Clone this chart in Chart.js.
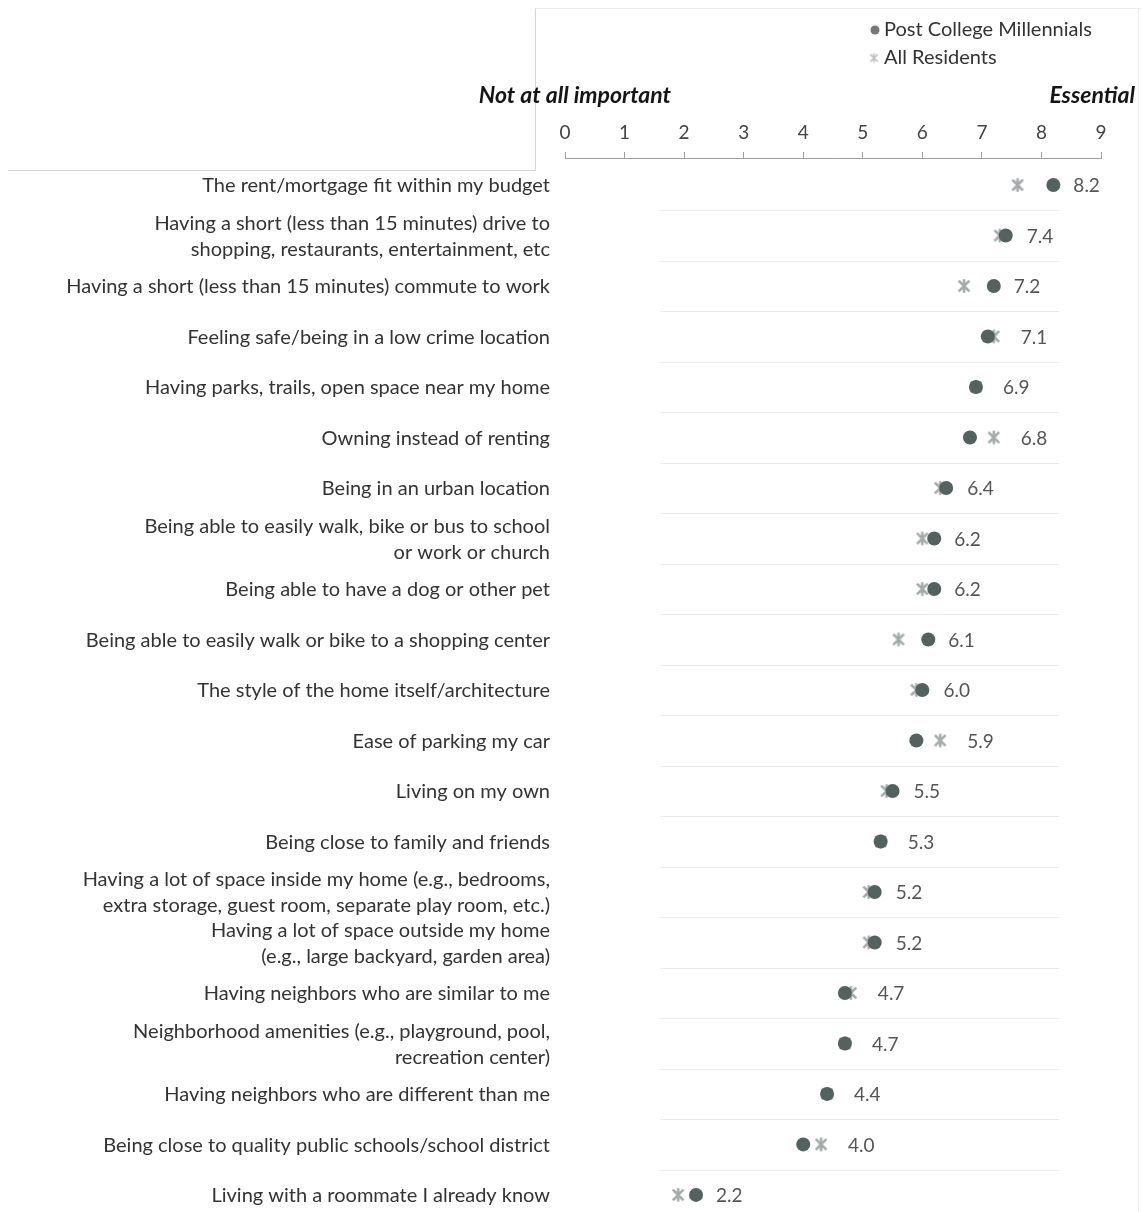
<!DOCTYPE html>
<html>
<head>
<meta charset="utf-8">
<script src="https://cdn.jsdelivr.net/npm/chart.js@4.4.1/dist/chart.umd.min.js"></script>
<style>
  html, body { margin: 0; padding: 0; background: #ffffff; overflow: hidden; }
  #wrap { position: relative; width: 1142px; height: 1212px; }
</style>
</head>
<body>
<div id="wrap"><canvas id="c"></canvas></div>
<script>
// ---- DATA ----
const categories = [
  "The rent/mortgage fit within my budget",
  ["Having a short (less than 15 minutes) drive to", "shopping, restaurants, entertainment, etc"],
  "Having a short (less than 15 minutes) commute to work",
  "Feeling safe/being in a low crime location",
  "Having parks, trails, open space near my home",
  "Owning instead of renting",
  "Being in an urban location",
  ["Being able to easily walk, bike or bus to school", "or work or church"],
  "Being able to have a dog or other pet",
  "Being able to easily walk or bike to a shopping center",
  "The style of the home itself/architecture",
  "Ease of parking my car",
  "Living on my own",
  "Being close to family and friends",
  ["Having a lot of space inside my home (e.g., bedrooms,", "extra storage, guest room, separate play room, etc.)"],
  ["Having a lot of space outside my home", "(e.g., large backyard, garden area)"],
  "Having neighbors who are similar to me",
  ["Neighborhood amenities (e.g., playground, pool,", "recreation center)"],
  "Having neighbors who are different than me",
  "Being close to quality public schools/school district",
  "Living with a roommate I already know"
];
const postCollegeMillennials = [8.2, 7.4, 7.2, 7.1, 6.9, 6.8, 6.4, 6.2, 6.2, 6.1, 6.0, 5.9, 5.5, 5.3, 5.2, 5.2, 4.7, 4.7, 4.4, 4.0, 2.2];
const allResidents          = [7.6, 7.3, 6.7, 7.2, 6.9, 7.2, 6.3, 6.0, 6.0, 5.6, 5.9, 6.3, 5.4, 5.3, 5.1, 5.1, 4.8, 4.7, 4.4, 4.3, 1.9];
const xTicks = [0, 1, 2, 3, 4, 5, 6, 7, 8, 9];
const seriesNames = ["Post College Millennials", "All Residents"];
const scaleEnds = ["Not at all important", "Essential"];

// ---- STYLE ----
const FONT = "Lato, 'Open Sans', 'DejaVu Sans', sans-serif";
const MILL_COLOR = "#53625f";
const ALL_COLOR = "#a4abaa";

// six-spoke asterisk marker (X plus vertical bar), used as a point style
function makeAsterisk(size, color, lw) {
  const c = document.createElement('canvas');
  c.width = size; c.height = size;
  const g = c.getContext('2d');
  const m = size / 2, r = size / 2 - lw / 2;
  g.strokeStyle = color; g.lineWidth = lw; g.lineCap = 'butt';
  g.beginPath();
  g.moveTo(m, m - r); g.lineTo(m, m + r);
  const d = r * 0.8;
  g.moveTo(m - d, m - d); g.lineTo(m + d, m + d);
  g.moveTo(m + d, m - d); g.lineTo(m - d, m + d);
  g.stroke();
  return c;
}
const asteriskImg = makeAsterisk(16, ALL_COLOR, 2.6);
const legendAsterisk = makeAsterisk(11, '#bdbdbd', 1.6);

const toPoints = arr => arr.map((v, i) => ({ x: v, y: i }));

const decorPlugin = {
  id: 'decor',
  beforeDraw(chart) {
    const ctx = chart.ctx;
    ctx.save();
    ctx.fillStyle = '#ffffff';
    ctx.fillRect(0, 0, chart.width, chart.height);
    ctx.lineWidth = 1;
    ctx.strokeStyle = '#d4d4d4';
    ctx.beginPath();
    ctx.moveTo(8, 170.5); ctx.lineTo(535.5, 170.5);
    ctx.moveTo(535.5, 8); ctx.lineTo(535.5, 170.5);
    ctx.stroke();
    ctx.strokeStyle = '#ececec';
    ctx.beginPath();
    ctx.moveTo(535.5, 8.5); ctx.lineTo(1142, 8.5);
    ctx.moveTo(1138.5, 8.5); ctx.lineTo(1138.5, 1212);
    ctx.stroke();
    // faint row separators
    const ys = chart.scales.y, xs = chart.scales.x;
    ctx.strokeStyle = '#ebebeb';
    ctx.beginPath();
    for (let i = 0; i < categories.length - 1; i++) {
      const y = Math.round(ys.getPixelForValue(i + 0.5)) + 0.5;
      ctx.moveTo(xs.getPixelForValue(1.6), y);
      ctx.lineTo(xs.getPixelForValue(8.3), y);
    }
    ctx.stroke();
    ctx.restore();
  },
  afterDatasetsDraw(chart) {
    const ctx = chart.ctx, xs = chart.scales.x, ys = chart.scales.y;
    ctx.save();
    // value labels
    ctx.font = "19px " + FONT;
    ctx.fillStyle = '#555555';
    ctx.textAlign = 'left';
    ctx.textBaseline = 'middle';
    postCollegeMillennials.forEach((v, i) => {
      const px = xs.getPixelForValue(v);
      const pa = xs.getPixelForValue(allResidents[i]);
      const x = Math.max(px + 20, pa + 27);
      ctx.fillText(v.toFixed(1), x, ys.getPixelForValue(i) + 1);
    });
    // scale end captions
    ctx.font = "italic bold 23px " + FONT;
    ctx.fillStyle = '#151515';
    ctx.textAlign = 'right';
    ctx.fillText(scaleEnds[0], 671, 96);
    ctx.fillText(scaleEnds[1], 1135, 96);
    // legend
    ctx.font = "20px " + FONT;
    ctx.fillStyle = '#333333';
    ctx.textAlign = 'left';
    ctx.fillText(seriesNames[0], 884, 30);
    ctx.fillText(seriesNames[1], 884, 58);
    ctx.fillStyle = '#777777';
    ctx.beginPath(); ctx.arc(875, 30, 4.5, 0, Math.PI * 2); ctx.fill();
    ctx.drawImage(legendAsterisk, 874 - 5.5, 58 - 5.5);
    ctx.restore();
  }
};

new Chart(document.getElementById('c'), {
  type: 'scatter',
  data: {
    datasets: [
      {
        label: seriesNames[0],
        data: toPoints(postCollegeMillennials),
        pointStyle: 'circle',
        pointRadius: 7,
        pointHoverRadius: 7,
        backgroundColor: MILL_COLOR,
        borderColor: MILL_COLOR,
        borderWidth: 0
      },
      {
        label: seriesNames[1],
        data: toPoints(allResidents),
        pointStyle: asteriskImg,
        pointRadius: 8,
        pointHoverRadius: 8,
        backgroundColor: ALL_COLOR,
        borderColor: ALL_COLOR,
        borderWidth: 0
      }
    ]
  },
  options: {
    responsive: true,
    maintainAspectRatio: false,
    animation: false,
    layout: { padding: { left: 0, right: 41, top: 0, bottom: 0 } },
    plugins: { legend: { display: false }, tooltip: { enabled: false } },
    scales: {
      x: {
        type: 'linear',
        position: 'top',
        min: 0,
        max: 9,
        afterBuildTicks: s => { s.ticks = xTicks.map(v => ({ value: v })); },
        afterFit: s => { s.height = 158; s.paddingLeft = 0; s.paddingRight = 0; },
        ticks: {
          color: '#444444',
          font: { family: FONT, size: 19 },
          padding: 8,
          maxRotation: 0
        },
        grid: { drawOnChartArea: false, drawTicks: true, tickLength: 6, color: '#a0a0a0' },
        border: { display: true, color: '#a0a0a0', width: 1 }
      },
      y: {
        type: 'linear',
        reverse: true,
        min: -0.535,
        max: 20.18,
        afterBuildTicks: s => { s.ticks = categories.map((_, i) => ({ value: i })); },
        afterFit: s => { s.width = 565; s.paddingTop = 0; s.paddingBottom = 0; },
        ticks: {
          autoSkip: false,
          color: '#333333',
          font: { family: FONT, size: 20, lineHeight: 1.3 },
          padding: 7,
          labelOffset: 1,
          callback: v => categories[v]
        },
        grid: { display: false },
        border: { display: false }
      }
    }
  },
  plugins: [decorPlugin]
});
</script>
</body>
</html>
